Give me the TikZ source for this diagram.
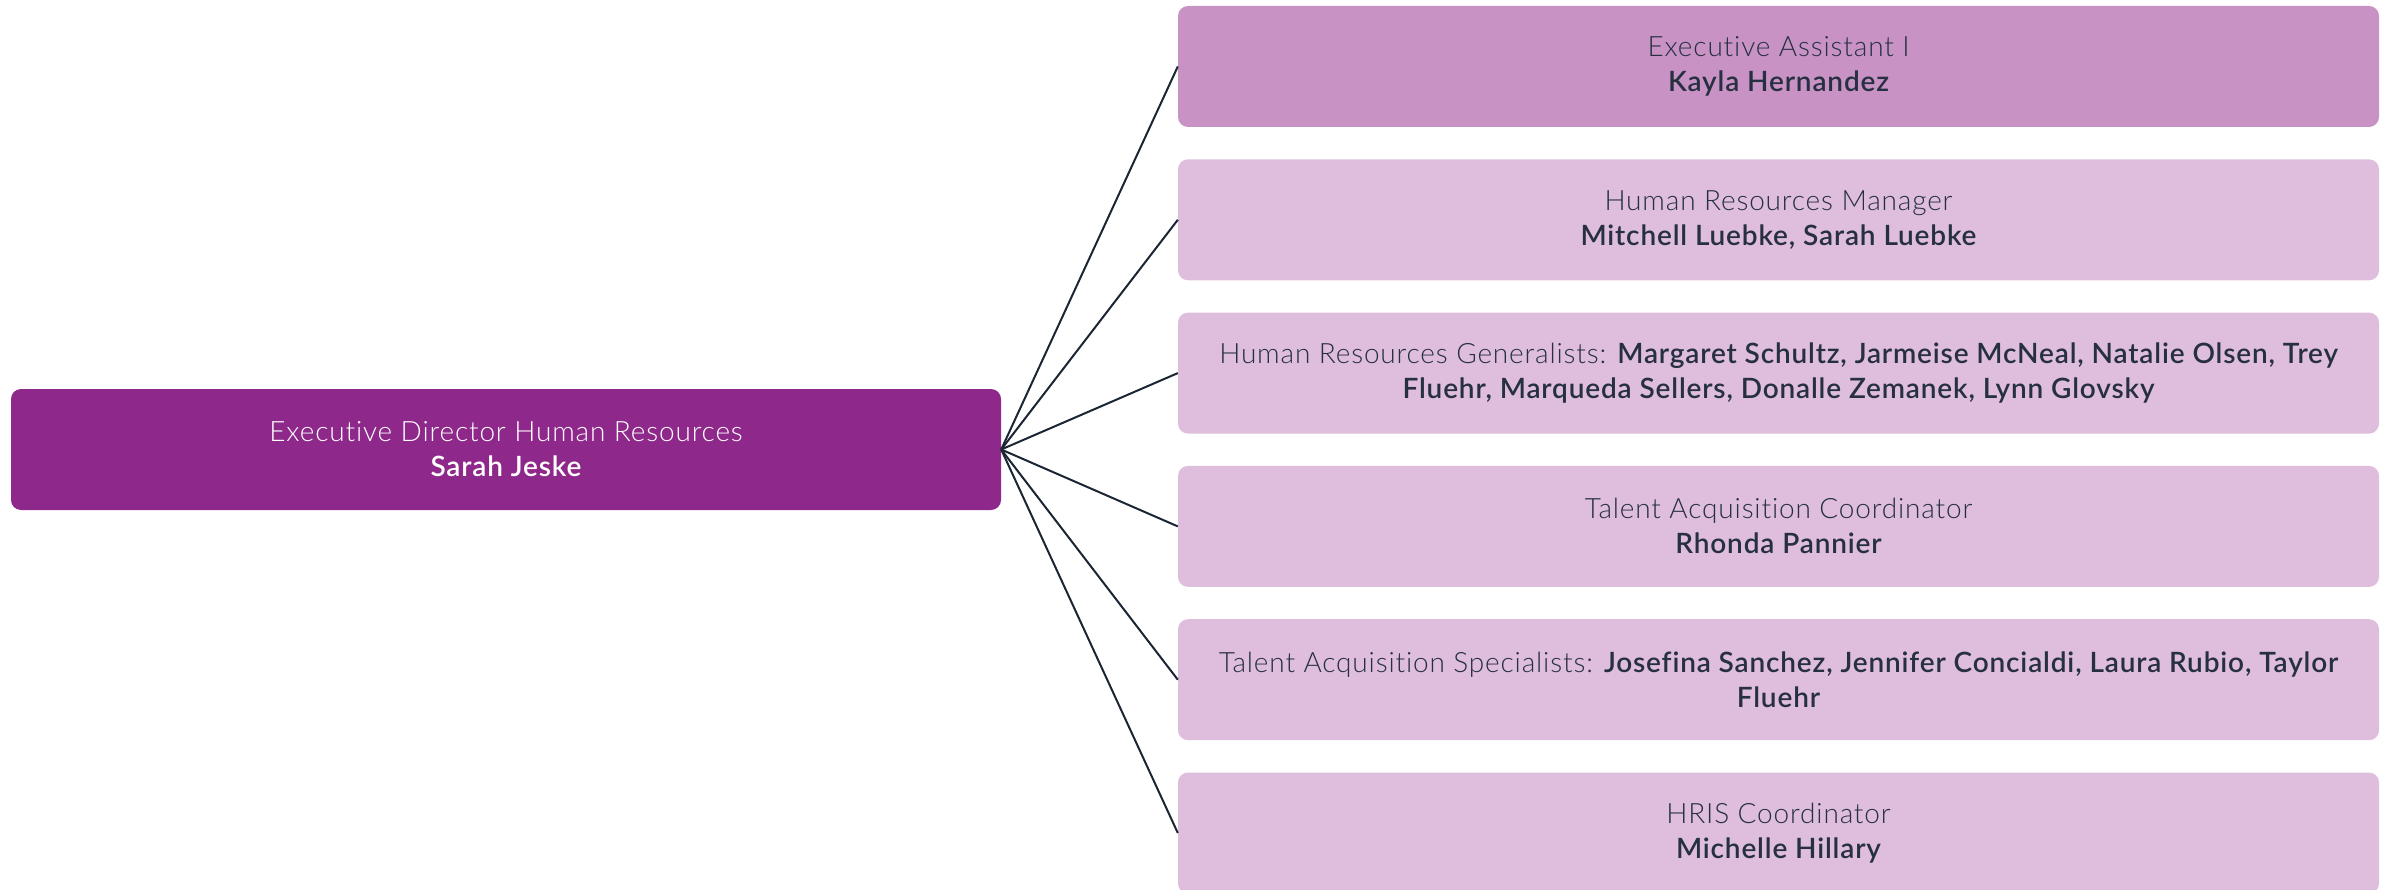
\documentclass[tikz,border=0pt]{standalone}
\usepackage{fontspec}
\IfFontExistsTF{Lato Light}{\newfontfamily\lightf{Lato Light}[Ligatures=NoCommon,LetterSpace=3]}{\newfontfamily\lightf{Lato}[Ligatures=NoCommon,LetterSpace=3]}
\IfFontExistsTF{Lato Semibold}{\newfontfamily\boldf{Lato Semibold}[Ligatures=NoCommon,LetterSpace=3]}{\newfontfamily\boldf{Lato}[UprightFont=* Bold,Ligatures=NoCommon,LetterSpace=3]}
\newcommand{\nm}[1]{{\boldf #1}}
\definecolor{mainp}{HTML}{8E288A}
\definecolor{firstp}{HTML}{C892C5}
\definecolor{lightp}{HTML}{DFBDDD}
\definecolor{txt}{HTML}{263040}
\definecolor{lnk}{HTML}{1B2533}
\begin{document}
\begin{tikzpicture}[x=1pt,y=-1pt,
  box/.style={rounded corners=10pt, minimum width=1201pt, minimum height=121pt,
    inner sep=0pt, align=center, text=txt, font=\lightf\fontsize{28}{35}\selectfont},
  link/.style={draw=lnk, line width=2pt}]
\useasboundingbox (0,0) rectangle (2397,890);
\clip (0,0) rectangle (2397,890);
\node[box, fill=mainp, minimum width=990pt, text=white] (root) at (506,449.5)
  {Executive Director Human Resources\\\nm{Sarah Jeske}};
\node[box, fill=firstp] (a) at (1778.5,66.5)
  {Executive Assistant I\\\nm{Kayla Hernandez}};
\node[box, fill=lightp] (b) at (1778.5,219.8)
  {Human Resources Manager\\\nm{Mitchell Luebke, Sarah Luebke}};
\node[box, fill=lightp] (c) at (1778.5,373.1)
  {Human Resources Generalists: \nm{Margaret Schultz, Jarmeise McNeal, Natalie Olsen, Trey}\\\nm{Fluehr, Marqueda Sellers, Donalle Zemanek, Lynn Glovsky}};
\node[box, fill=lightp] (d) at (1778.5,526.4)
  {Talent Acquisition Coordinator\\\nm{Rhonda Pannier}};
\node[box, fill=lightp] (e) at (1778.5,679.7)
  {Talent Acquisition Specialists: \nm{Josefina Sanchez, Jennifer Concialdi, Laura Rubio, Taylor}\\\nm{Fluehr}};
\node[box, fill=lightp] (f) at (1778.5,833)
  {HRIS Coordinator\\\nm{Michelle Hillary}};
\foreach \n in {a,b,c,d,e,f} \draw[link] (root.east) -- (\n.west);
\end{tikzpicture}
\end{document}
